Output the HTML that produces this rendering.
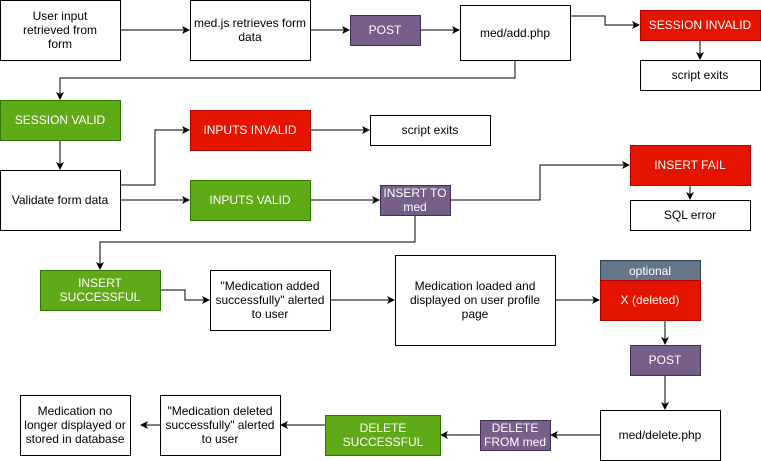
<!DOCTYPE html>
<html><head><meta charset="utf-8"><style>
html,body{margin:0;padding:0;background:#fff;}
svg{display:block;}
text{font-family:"Liberation Sans",Arial,sans-serif;font-size:12px;}
</style></head><body>
<svg width="761" height="461" viewBox="0 0 761 461" xmlns="http://www.w3.org/2000/svg">
<defs><marker id="a" markerWidth="8" markerHeight="8" refX="7" refY="4" orient="auto" markerUnits="userSpaceOnUse"><path d="M0,0 L8,4 L0,8 L2,4 z" fill="#000"/></marker></defs>
<g fill="none" stroke="#000" stroke-width="1" marker-end="url(#a)">
<path d="M120,30H189"/>
<path d="M310,30H349"/>
<path d="M420,30H459"/>
<path d="M570,16H605V25H639"/>
<path d="M700,40V59"/>
<path d="M515,60V78H60V99"/>
<path d="M60,140V169"/>
<path d="M120,185H155V130H189"/>
<path d="M120,200H189"/>
<path d="M310,130H369"/>
<path d="M310,200H379"/>
<path d="M450,200H540V165H629"/>
<path d="M690,185V199"/>
<path d="M415,215V242H100V269"/>
<path d="M160,290H185V300H209"/>
<path d="M330,300H394"/>
<path d="M555,300H599"/>
<path d="M665,320V344"/>
<path d="M665,375V409"/>
<path d="M600,435H551"/>
<path d="M480,435H441"/>
<path d="M325,425H281"/>
<path d="M160,425H141"/>
</g>
<g stroke="#000" stroke-width="1">
<rect x="0.5" y="0.5" width="120" height="60" fill="#fff"/>
<rect x="190.5" y="0.5" width="120" height="60" fill="#fff"/>
<rect x="350.5" y="15.5" width="70" height="30" fill="#76608a" stroke="#432d57"/>
<rect x="460.5" y="5.5" width="110" height="55" fill="#fff"/>
<rect x="640.5" y="10.5" width="120" height="30" fill="#e51400" stroke="#b20000"/>
<rect x="640.5" y="60.5" width="120" height="30" fill="#fff"/>
<rect x="0.5" y="100.5" width="120" height="40" fill="#60a917" stroke="#2d7600"/>
<rect x="0.5" y="170.5" width="120" height="60" fill="#fff"/>
<rect x="190.5" y="110.5" width="120" height="40" fill="#e51400" stroke="#b20000"/>
<rect x="370.5" y="115.5" width="120" height="30" fill="#fff"/>
<rect x="190.5" y="180.5" width="120" height="40" fill="#60a917" stroke="#2d7600"/>
<rect x="380.5" y="185.5" width="70" height="30" fill="#76608a" stroke="#432d57"/>
<rect x="630.5" y="145.5" width="120" height="40" fill="#e51400" stroke="#b20000"/>
<rect x="630.5" y="200.5" width="120" height="30" fill="#fff"/>
<rect x="40.5" y="270.5" width="120" height="40" fill="#60a917" stroke="#2d7600"/>
<rect x="210.5" y="270.5" width="120" height="60" fill="#fff"/>
<rect x="395.5" y="255.5" width="160" height="90" fill="#fff"/>
<rect x="600.5" y="260.5" width="100" height="20" fill="#647687" stroke="#314354"/>
<rect x="600.5" y="280.5" width="100" height="40" fill="#e51400" stroke="#b20000"/>
<rect x="630.5" y="345.5" width="70" height="30" fill="#76608a" stroke="#432d57"/>
<rect x="600.5" y="410.5" width="120" height="50" fill="#fff"/>
<rect x="480.5" y="420.5" width="70" height="30" fill="#76608a" stroke="#432d57"/>
<rect x="325.5" y="415.5" width="115" height="40" fill="#60a917" stroke="#2d7600"/>
<rect x="160.5" y="395.5" width="120" height="60" fill="#fff"/>
<rect x="20.5" y="395.5" width="110" height="60" fill="#fff"/>
</g>
<g text-anchor="middle" fill="#000">
<text x="60" y="20">User input</text><text x="60" y="34">retrieved from</text><text x="60" y="48">form</text>
<text x="250" y="27">med.js retrieves form</text><text x="250" y="41">data</text>
<text x="515" y="37">med/add.php</text>
<text x="700" y="79">script exits</text>
<text x="60" y="204">Validate form data</text>
<text x="430" y="134">script exits</text>
<text x="690" y="219">SQL error</text>
<text x="270" y="290">"Medication added</text><text x="270" y="304">successfully" alerted</text><text x="270" y="318">to user</text>
<text x="475" y="290">Medication loaded and</text><text x="475" y="304">displayed on user profile</text><text x="475" y="318">page</text>
<text x="660" y="439">med/delete.php</text>
<text x="220" y="415">"Medication deleted</text><text x="220" y="429">successfully" alerted</text><text x="220" y="443">to user</text>
<text x="75" y="415">Medication no</text><text x="75" y="429">longer displayed or</text><text x="75" y="443">stored in database</text>
</g>
<g text-anchor="middle" fill="#fff">
<text x="385" y="34">POST</text>
<text x="700" y="29">SESSION INVALID</text>
<text x="60" y="124">SESSION VALID</text>
<text x="250" y="134">INPUTS INVALID</text>
<text x="250" y="204">INPUTS VALID</text>
<text x="415" y="197">INSERT TO</text><text x="415" y="211">med</text>
<text x="690" y="169">INSERT FAIL</text>
<text x="100" y="287">INSERT</text><text x="100" y="301">SUCCESSFUL</text>
<text x="650" y="275">optional</text>
<text x="650" y="304">X (deleted)</text>
<text x="665" y="364">POST</text>
<text x="515" y="432">DELETE</text><text x="515" y="446">FROM med</text>
<text x="383" y="432">DELETE</text><text x="383" y="446">SUCCESSFUL</text>
</g>
</svg>
</body></html>
